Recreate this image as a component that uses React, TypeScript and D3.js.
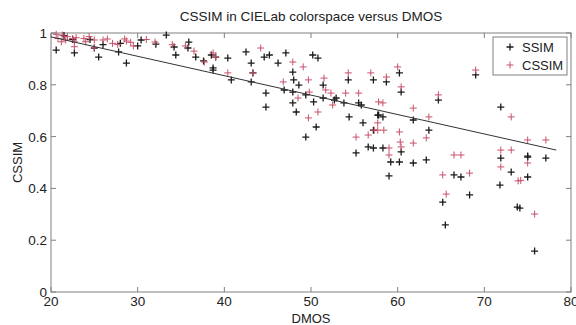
import React from 'react';
import * as d3 from 'd3';

// SSIM values (black markers)
const ssimX = [
  20.6, 22.7, 25.5, 28.7, 27.8, 25.0, 30.4, 33.3, 32.1, 34.2, 34.4, 35.8, 35.9, 36.7, 37.6, 38.5, 39.0, 38.7,
  21.5, 22.5, 24.5, 26.0, 28.0, 30.0,
  38.7, 40.4, 40.8, 42.5, 43.1, 43.3, 43.1, 44.6, 45.2, 44.8, 44.8, 46.2, 47.1, 46.9, 47.9, 48.0, 47.9, 47.9,
  48.3, 48.6, 49.4, 50.2, 50.8, 50.3, 49.4, 50.6, 51.4, 51.4, 52.7, 52.9, 53.8, 54.3, 54.4, 55.8, 55.5, 56.0,
  57.2, 57.7, 56.6, 57.2, 55.2,
  58.7, 60.2, 60.4, 57.8, 58.3, 57.2, 61.8, 63.6, 60.4, 58.3, 59.2, 60.2, 61.8, 63.3, 66.5, 67.3, 59.0, 64.7,
  69.0, 71.9, 71.9, 73.1, 75.0, 77.1, 75.0,
  65.2, 65.5, 68.3, 71.8, 73.8, 74.1, 75.8, 75.0,
];
const ssimY = [
  0.934, 0.923, 0.907, 0.884, 0.927, 0.942, 0.973, 0.992, 0.957, 0.946, 0.915, 0.942, 0.965, 0.907, 0.892, 0.915, 0.907, 0.865,
  0.99, 0.975, 0.975, 0.955, 0.96, 0.95,
  0.857, 0.903, 0.819, 0.927, 0.884, 0.846, 0.811, 0.907, 0.915, 0.768, 0.714, 0.884, 0.923, 0.78, 0.849, 0.819, 0.772, 0.73,
  0.695, 0.799, 0.761, 0.915, 0.903, 0.734, 0.598, 0.637, 0.799, 0.749, 0.741, 0.749, 0.73, 0.819, 0.676, 0.722, 0.73, 0.653,
  0.819, 0.683, 0.56, 0.556, 0.537,
  0.811, 0.846, 0.772, 0.683, 0.676, 0.625, 0.664, 0.625, 0.541, 0.556, 0.502, 0.502, 0.498, 0.51, 0.452, 0.444, 0.448, 0.741,
  0.838, 0.714, 0.517, 0.463, 0.521, 0.517, 0.444,
  0.347, 0.259, 0.375, 0.413, 0.328, 0.324, 0.158, 0.525,
];

// CSSIM values (red markers)
const cssimX = [
  20.6, 20.8, 21.3, 21.7, 21.9, 22.5, 22.7, 22.9, 23.8, 24.0, 24.4, 25.0, 26.0, 26.5, 28.5, 28.7, 29.2, 27.7,
  25.0, 22.7, 21.2, 27.1, 32.0, 34.0, 35.5, 36.5, 29.5, 31.0,
  38.7, 39.0, 40.4, 37.7, 43.3, 44.2, 46.8, 47.9, 49.1, 49.7, 49.8, 50.8, 49.7, 51.5, 51.7, 52.3, 52.5, 54.3,
  54.0, 55.5, 56.9, 57.3, 55.2, 48.5,
  58.7, 60.0, 60.4, 57.8, 58.3, 57.7, 57.7, 58.4, 56.6, 61.8, 63.6, 63.3, 61.8, 60.2, 60.3, 60.4, 59.0, 59.0,
  66.5, 67.3, 65.2, 64.7, 69.0, 73.1, 71.9, 73.1, 71.9, 75.0, 77.1, 73.9, 75.0,
  65.6, 68.3, 74.2, 75.8,
];
const cssimY = [
  0.995, 0.979, 0.992, 0.973, 0.986, 0.979, 0.966, 0.982, 0.979, 0.966, 0.986, 0.973, 0.973, 0.977, 0.977, 0.969, 0.964, 0.956,
  0.943, 0.947, 0.966, 0.96, 0.965, 0.955, 0.95, 0.93, 0.95, 0.975,
  0.923, 0.907, 0.846, 0.888, 0.846, 0.942, 0.811, 0.888, 0.869, 0.819, 0.772, 0.695, 0.672, 0.826, 0.78, 0.768, 0.722, 0.846,
  0.768, 0.768, 0.846, 0.625, 0.598, 0.749,
  0.83, 0.869, 0.792, 0.734, 0.73, 0.653, 0.625, 0.625, 0.606, 0.71, 0.676, 0.595, 0.575, 0.618, 0.579, 0.56, 0.556, 0.529,
  0.529, 0.529, 0.452, 0.761, 0.857, 0.676, 0.548, 0.548, 0.483, 0.587, 0.587, 0.429, 0.498,
  0.378, 0.459, 0.431, 0.301,
];

// fitted line
const fitX = [20, 78.3];
const fitY = [0.985, 0.548];

const xTicks = [20, 30, 40, 50, 60, 70, 80];
const yTicks = [0, 0.2, 0.4, 0.6, 0.8, 1];

const W = 576;
const H = 325;
const m = { left: 51, right: 5, top: 33, bottom: 33 };
const font = 'Arial, "Liberation Sans", Helvetica, sans-serif';
const axisColor = '#808080';
const redColor = '#c8506a';

function Plus({ x, y, color, sw }: { x: number; y: number; color: string; sw: number }) {
  const s = 3.5;
  return (
    <path d={`M${x - s},${y}H${x + s}M${x},${y - s}V${y + s}`} stroke={color} strokeWidth={sw} fill="none" />
  );
}

export default function App() {
  const x = d3.scaleLinear().domain([20, 80]).range([m.left, W - m.right]);
  const y = d3.scaleLinear().domain([0, 1]).range([H - m.bottom, m.top]);
  const line = d3
    .line<number>()
    .x((d) => x(d))
    .y((d, i) => y(fitY[i]));
  const x0 = m.left;
  const x1 = W - m.right;
  const y0 = H - m.bottom;
  const y1 = m.top;
  const tl = 5;

  return (
    <svg
      width={W}
      height={H}
      style={{ position: 'absolute', left: 0, top: 0, background: '#fff' }}
      fontFamily={font}
    >
      <rect x={0} y={0} width={W} height={H} fill="#fff" />
      {/* title */}
      <text x={(x0 + x1) / 2} y={21} textAnchor="middle" fontSize={13.5} fill="#222">
        CSSIM in CIELab colorspace versus DMOS
      </text>

      {/* frame */}
      <rect x={x0} y={y1} width={x1 - x0} height={y0 - y1} fill="none" stroke={axisColor} strokeWidth={1} />

      {/* ticks */}
      {xTicks.map((t) => (
        <g key={'xt' + t}>
          <line x1={x(t)} x2={x(t)} y1={y0} y2={y0 - tl} stroke={axisColor} />
          <line x1={x(t)} x2={x(t)} y1={y1} y2={y1 + tl} stroke={axisColor} />
          <text x={x(t)} y={y0 + 14} textAnchor="middle" fontSize={13.5} fill="#222">
            {t}
          </text>
        </g>
      ))}
      {yTicks.map((t) => (
        <g key={'yt' + t}>
          <line x1={x0} x2={x0 + tl} y1={y(t)} y2={y(t)} stroke={axisColor} />
          <line x1={x1} x2={x1 - tl} y1={y(t)} y2={y(t)} stroke={axisColor} />
          <text x={x0 - 4} y={y(t) + 5} textAnchor="end" fontSize={13.5} fill="#222">
            {t}
          </text>
        </g>
      ))}

      {/* axis labels */}
      <text x={(x0 + x1) / 2} y={323} textAnchor="middle" fontSize={13} fill="#222">
        DMOS
      </text>
      <text
        transform={`translate(22,${(y0 + y1) / 2}) rotate(-90)`}
        textAnchor="middle"
        fontSize={13}
        fill="#222"
      >
        CSSIM
      </text>

      {/* points */}
      {ssimX.map((d, i) => (
        <Plus key={'s' + i} x={x(d)} y={y(ssimY[i])} color="#1a1a1a" sw={1.3} />
      ))}
      {cssimX.map((d, i) => (
        <Plus key={'c' + i} x={x(d)} y={y(cssimY[i])} color={redColor} sw={1} />
      ))}

      {/* fit */}
      <path d={line(fitX) || ''} fill="none" stroke="#333" strokeWidth={1} />

      {/* legend */}
      <g>
        <rect x={493} y={37} width={74} height={38} fill="#fff" stroke={axisColor} />
        <Plus x={510} y={47} color="#1a1a1a" sw={1.3} />
        <text x={522} y={51.5} fontSize={13} fill="#222">
          SSIM
        </text>
        <Plus x={510} y={65} color={redColor} sw={1} />
        <text x={522} y={69.5} fontSize={13} fill="#222">
          CSSIM
        </text>
      </g>
    </svg>
  );
}
